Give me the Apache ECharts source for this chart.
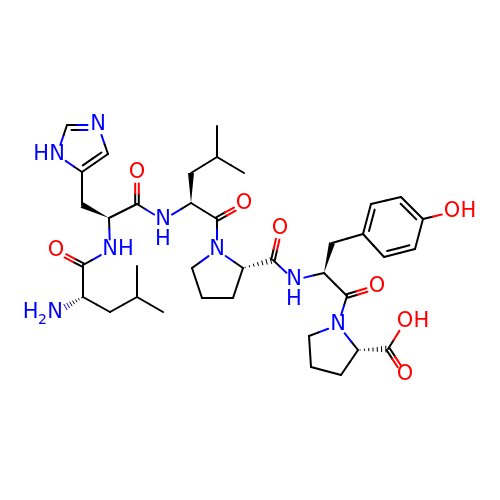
<!DOCTYPE html>
<html><head><meta charset="utf-8">
<style>html,body{margin:0;padding:0;background:#fff}#c{width:500px;height:500px}</style>
<script src="https://cdn.jsdelivr.net/npm/echarts@6/dist/echarts.min.js"></script>
</head><body><div id="c"></div>
<script>
// atom table: index = position in the arrays
const atomX = [67,98,108,82,57,82,109,137,137,163,110, 83,56,83,55,110,137,137,163, 191,191,217,217,244,217,244,217, 243,233,202,192,273,280,294,324, 332,363,371,401,423,415,384,452, 347,377,338,309,358,341,311,388,405,405];
const atomY = [125,125,154,172,155,205,218,204,173,220,250, 265,251,297,313,312,297,266,312, 203,173,157,126,173,219,204,250, 268,298,298,268,260,229,280,273, 243,234,204,197,219,249,257,212, 296,287,325,336,350,375,367,349,322,375];
const atomLabel = {1:'N',4:'HN',8:'O',9:'NHb',10:'NH',12:'O',14:'H2N',25:'O',26:'N',32:'O',33:'NHb',42:'OH',44:'O',45:'N',51:'OH',52:'O'};
const bondFrom = [0,1,2,3,4, 3,6,6,7,7,6,10,11,11,13,13,15,16,16, 9,19,20,21,21,19,24,24, 26,27,28,29,30,27,31,31,33, 34,35,36,37,38,39,40,41,39, 34,43,43,45,46,49,48,47,47,50,50];
const bondTo   = [1,2,3,4,0, 5,5,7,8,9,10,11,12,13,14,15,16,17,18, 19,20,21,22,23,24,25,26, 27,28,29,30,26,31,32,33,34, 35,36,37,38,39,40,41,36,42, 43,44,45,46,49,48,47,45,50,51,52];
const bondKind = ['d','s','d','s','s', 's','w','s','e','s','s','s','e','s','h','s','s','s','s', 's','w','s','s','s','s','e','s', 's','s','s','s','s','h','e','s','s', 'w','s','d','s','d','s','d','s','s', 's','e','s','s','s','s','s','s','h','s','e'];
const innerRef = {0:2,2:0,38:39,40:41,42:37};

function atomColor(i){const l=atomLabel[i];if(!l)return '#000000';return l.indexOf('O')>=0?'#FF0000':'#0000FF';}
function clip(i){const l=atomLabel[i];return l?10.5:0;}

const bondIdx = bondFrom.map((_,i)=>[i]);
const atomIdx = Object.keys(atomLabel).map(Number);

function seg(p,q,c,w){return {type:'line',shape:{x1:p[0],y1:p[1],x2:q[0],y2:q[1]},style:{stroke:c,lineWidth:w||2,lineCap:'round'}};}
function twoTone(p,q,a,b,out){
  const m=[(p[0]+q[0])/2,(p[1]+q[1])/2];
  out.push(seg(p,m,atomColor(a)),seg(m,q,atomColor(b)));
}
function renderBond(params,api){
  const k=api.value(0),a=bondFrom[k],b=bondTo[k],kind=bondKind[k];
  const A=api.coord([atomX[a],atomY[a]]),B=api.coord([atomX[b],atomY[b]]);
  const dx=B[0]-A[0],dy=B[1]-A[1],L=Math.hypot(dx,dy),ux=dx/L,uy=dy/L,nx=-uy,ny=ux;
  const ca=clip(a),cb=clip(b);
  const p=[A[0]+ux*ca,A[1]+uy*ca],q=[B[0]-ux*cb,B[1]-uy*cb];
  const out=[];
  if(kind==='s'){ twoTone(p,q,a,b,out); }
  else if(kind==='e'){
    const o=1.8;
    twoTone([p[0]+nx*o,p[1]+ny*o],[q[0]+nx*o,q[1]+ny*o],a,b,out);
    twoTone([p[0]-nx*o,p[1]-ny*o],[q[0]-nx*o,q[1]-ny*o],a,b,out);
  } else if(kind==='d'){
    twoTone(p,q,a,b,out);
    const r=api.coord([atomX[innerRef[k]],atomY[innerRef[k]]]);
    const s=((r[0]-A[0])*nx+(r[1]-A[1])*ny)>0?1:-1, o=5, t=ca?0:4.5, v=cb?0:4.5;
    twoTone([p[0]+ux*t+nx*o*s,p[1]+uy*t+ny*o*s],[q[0]-ux*v+nx*o*s,q[1]-uy*v+ny*o*s],a,b,out);
  } else if(kind==='w'){
    out.push({type:'polygon',shape:{points:[[A[0],A[1]],[B[0]+nx*3,B[1]+ny*3],[B[0]-nx*3,B[1]-ny*3]]},style:{fill:'#000000'}});
  } else if(kind==='h'){
    const n=7, len=Math.hypot(q[0]-A[0],q[1]-A[1]);
    for(let i=0;i<n;i++){
      const t=(i+0.5)/n*len, w=0.4+t/len*3.2;
      const c=[A[0]+ux*t,A[1]+uy*t];
      const col=t<L/2?atomColor(a):atomColor(b);
      out.push({type:'line',shape:{x1:c[0]+nx*w,y1:c[1]+ny*w,x2:c[0]-nx*w,y2:c[1]-ny*w},style:{stroke:col,lineWidth:1}});
    }
  }
  return {type:'group',children:out};
}
const FS=21;
function txt(x,y,s,c,align,size){return {type:'text',style:{x:x,y:y,text:s,fill:c,font:(size||FS)+'px "DejaVu Sans"',textAlign:align||'center',textVerticalAlign:'middle'}};}
function renderAtom(params,api){
  const i=api.value(0),l=atomLabel[i],P=api.coord([atomX[i],atomY[i]]),x=P[0],y=P[1],c=atomColor(i);
  const out=[];
  if(l==='N'||l==='O') out.push(txt(x,y,l,c));
  else if(l==='NH'){out.push(txt(x,y,'N',c),txt(x+8,y,'H',c,'left'));}
  else if(l==='NHb'){out.push(txt(x,y,'N',c),txt(x,y+20,'H',c));}
  else if(l==='HN'){out.push(txt(x,y,'N',c),txt(x-8,y,'H',c,'right'));}
  else if(l==='OH'){out.push(txt(x,y,'O',c),txt(x+8.5,y,'H',c,'left'));}
  else if(l==='H2N'){out.push(txt(x,y,'N',c),txt(x-8,y+7,'2',c,'right',14),txt(x-16.5,y,'H',c,'right'));}
  return {type:'group',children:out};
}
const chart=echarts.init(document.getElementById('c'),null,{renderer:'canvas'});
chart.setOption({
  animation:false,
  backgroundColor:'#ffffff',
  grid:{left:0,right:0,top:0,bottom:0},
  xAxis:{type:'value',min:0,max:500,show:false},
  yAxis:{type:'value',min:0,max:500,inverse:true,show:false},
  series:[
    {type:'custom',coordinateSystem:'cartesian2d',renderItem:renderBond,data:bondIdx,encode:{x:-1,y:-1},silent:true,clip:false},
    {type:'custom',coordinateSystem:'cartesian2d',renderItem:renderAtom,data:atomIdx.map(i=>[i]),encode:{x:-1,y:-1},silent:true,clip:false}
  ]
});
</script></body></html>
